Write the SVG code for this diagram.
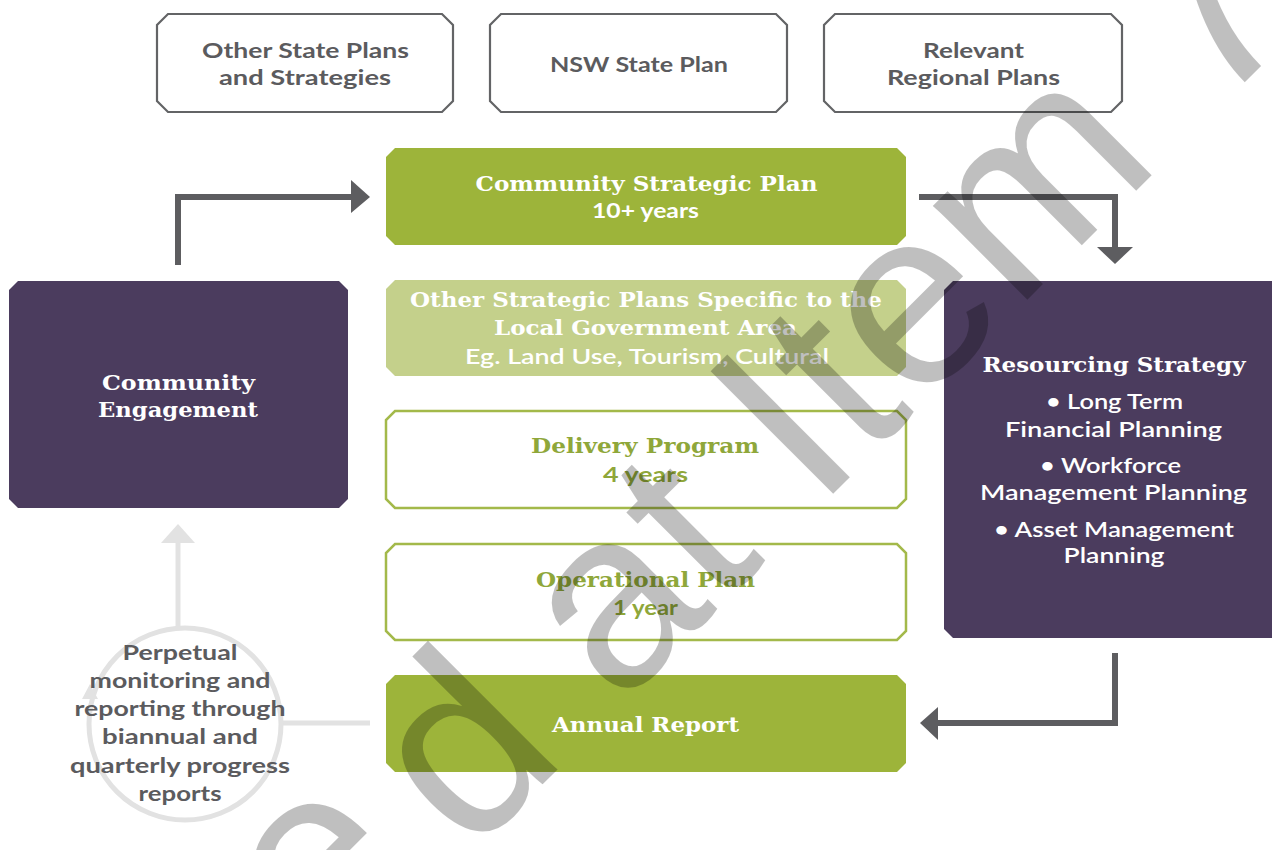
<svg xmlns="http://www.w3.org/2000/svg" width="1272" height="850" viewBox="0 0 1272 850">
<style>
.sans{font-family:Lato,"Open Sans","Liberation Sans",sans-serif;font-weight:700;text-anchor:middle;}
.med{font-family:Lato,"Open Sans","Liberation Sans",sans-serif;font-weight:600;text-anchor:middle;}
.serif{font-family:"DejaVu Serif","Liberation Serif",serif;font-weight:700;text-anchor:middle;}
.gray{fill:#5b5b5e;}
.white{fill:#ffffff;}
.gtxt{fill:#8fa73a;}
.outline{fill:#ffffff;stroke:#636466;stroke-width:2.2;}
.green{fill:#9db43a;}
.lgreen{fill:#c4d08b;}
.gbox{fill:#ffffff;stroke:#a3b94a;stroke-width:2.5;}
.purple{fill:#4b3c5e;}
.conn{fill:none;stroke:#5d5d60;stroke-width:6;}
.head{fill:#5d5d60;}
.light{fill:none;stroke:#e2e2e2;stroke-width:5;}
.lhead{fill:#e2e2e2;}
</style>
<rect width="1272" height="850" fill="#ffffff"/>

<g id="connectors">
  <polyline class="conn" points="178,265 178,197 354,197"/>
  <polygon class="head" points="351,180 370,197 351,213"/>
  <polyline class="conn" points="919,197 1115,197 1115,249"/>
  <polygon class="head" points="1097,247 1133,247 1115,264"/>
  <polyline class="conn" points="1115,653 1115,723 936,723"/>
  <polygon class="head" points="938,707 920,723 938,740"/>
  <line class="light" x1="282" y1="723" x2="370" y2="723"/>
  <circle class="light" cx="185" cy="724" r="96"/>
  <polygon class="lhead" points="82,699 90,684 98,699"/>
  <line class="light" x1="178" y1="628" x2="178" y2="540"/>
  <polygon class="lhead" points="161,543 178,524 195,543"/>
</g>

<g id="other-state-plans">
  <path class="outline" d="M168,14 H442 L453,25 V101 L442,112 H168 L157,101 V25 Z"/>
  <text class="sans gray" font-size="21" x="305.5" y="58" textLength="207" lengthAdjust="spacingAndGlyphs">Other State Plans</text>
  <text class="sans gray" font-size="21" x="305" y="85" textLength="172" lengthAdjust="spacingAndGlyphs">and Strategies</text>
</g>
<g id="nsw-state-plan">
  <path class="outline" d="M501,14 H776 L787,25 V101 L776,112 H501 L490,101 V25 Z"/>
  <text class="sans gray" font-size="21" x="639" y="72" textLength="178" lengthAdjust="spacingAndGlyphs">NSW State Plan</text>
</g>
<g id="regional-plans">
  <path class="outline" d="M835,14 H1111 L1122,25 V101 L1111,112 H835 L824,101 V25 Z"/>
  <text class="sans gray" font-size="21" x="973.5" y="58" textLength="101" lengthAdjust="spacingAndGlyphs">Relevant</text>
  <text class="sans gray" font-size="21" x="973.5" y="85" textLength="173" lengthAdjust="spacingAndGlyphs">Regional Plans</text>
</g>

<g id="community-strategic-plan">
  <path class="green" d="M395,148 H897 L906,157 V236 L897,245 H395 L386,236 V157 Z"/>
  <text class="serif white" font-size="21" x="646.5" y="191" textLength="342" lengthAdjust="spacingAndGlyphs">Community Strategic Plan</text>
  <text class="sans white" font-size="20" x="645.5" y="218" textLength="107" lengthAdjust="spacingAndGlyphs">10+ years</text>
</g>

<g id="other-strategic-plans">
  <path class="lgreen" d="M395,280 H897 L906,289 V367 L897,376 H395 L386,367 V289 Z"/>
  <text class="serif white" font-size="21" x="646" y="307" textLength="472" lengthAdjust="spacingAndGlyphs">Other Strategic Plans Specific to the</text>
  <text class="serif white" font-size="21" x="645.5" y="335" textLength="303" lengthAdjust="spacingAndGlyphs">Local Government Area</text>
  <text class="med white" font-size="21" x="647" y="364" textLength="364" lengthAdjust="spacingAndGlyphs">Eg. Land Use, Tourism, Cultural</text>
</g>

<g id="delivery-program">
  <path class="gbox" d="M395,411 H897 L906,420 V499 L897,508 H395 L386,499 V420 Z"/>
  <text class="serif gtxt" font-size="21" x="645" y="453" textLength="228" lengthAdjust="spacingAndGlyphs">Delivery Program</text>
  <text class="sans gtxt" font-size="20" x="645.5" y="482" textLength="85" lengthAdjust="spacingAndGlyphs">4 years</text>
</g>

<g id="operational-plan">
  <path class="gbox" d="M395,544 H897 L906,553 V631 L897,640 H395 L386,631 V553 Z"/>
  <text class="serif gtxt" font-size="21" x="645.5" y="587" textLength="219" lengthAdjust="spacingAndGlyphs">Operational Plan</text>
  <text class="sans gtxt" font-size="20" x="645.5" y="615" textLength="65" lengthAdjust="spacingAndGlyphs">1 year</text>
</g>

<g id="annual-report">
  <path class="green" d="M395,675 H897 L906,684 V763 L897,772 H395 L386,763 V684 Z"/>
  <text class="serif white" font-size="21" x="645.5" y="732" textLength="187" lengthAdjust="spacingAndGlyphs">Annual Report</text>
</g>

<g id="community-engagement">
  <path class="purple" d="M18,281 H339 L348,290 V499 L339,508 H18 L9,499 V290 Z"/>
  <text class="serif white" font-size="21" x="178.5" y="390" textLength="153" lengthAdjust="spacingAndGlyphs">Community</text>
  <text class="serif white" font-size="21" x="178" y="417" textLength="160" lengthAdjust="spacingAndGlyphs">Engagement</text>
</g>

<g id="resourcing-strategy">
  <path class="purple" d="M953,281 H1272 V638 H953 L944,629 V290 Z"/>
  <text class="serif white" font-size="21" x="1114" y="372" textLength="263" lengthAdjust="spacingAndGlyphs">Resourcing Strategy</text>
  <text class="med white" font-size="21" x="1114.5" y="409" textLength="137" lengthAdjust="spacingAndGlyphs">• Long Term</text>
  <text class="med white" font-size="21" x="1113.5" y="437" textLength="217" lengthAdjust="spacingAndGlyphs">Financial Planning</text>
  <text class="med white" font-size="21" x="1110.5" y="473" textLength="141" lengthAdjust="spacingAndGlyphs">• Workforce</text>
  <text class="med white" font-size="21" x="1113.5" y="500" textLength="267" lengthAdjust="spacingAndGlyphs">Management Planning</text>
  <text class="med white" font-size="21" x="1114" y="537" textLength="240" lengthAdjust="spacingAndGlyphs">• Asset Management</text>
  <text class="med white" font-size="21" x="1114" y="563" textLength="101" lengthAdjust="spacingAndGlyphs">Planning</text>
</g>

<g id="monitoring">
  <text class="sans gray" font-size="21" x="180" y="660" textLength="115" lengthAdjust="spacingAndGlyphs">Perpetual</text>
  <text class="sans gray" font-size="21" x="180" y="688" textLength="181" lengthAdjust="spacingAndGlyphs">monitoring and</text>
  <text class="sans gray" font-size="21" x="180" y="716" textLength="211" lengthAdjust="spacingAndGlyphs">reporting through</text>
  <text class="sans gray" font-size="21" x="180" y="744" textLength="156" lengthAdjust="spacingAndGlyphs">biannual and</text>
  <text class="sans gray" font-size="21" x="180" y="773" textLength="220" lengthAdjust="spacingAndGlyphs">quarterly progress</text>
  <text class="sans gray" font-size="21" x="180" y="801" textLength="83" lengthAdjust="spacingAndGlyphs">reports</text>
</g>

<g id="watermark">
  <text transform="translate(371,956) rotate(-45)" font-family="'Liberation Sans',Arial,sans-serif" font-size="252" fill="#000000" fill-opacity="0.25"><tspan dx="-45" dy="-28">e</tspan><tspan dx="45" dy="28">d at Item 7</tspan></text>
</g>
</svg>
